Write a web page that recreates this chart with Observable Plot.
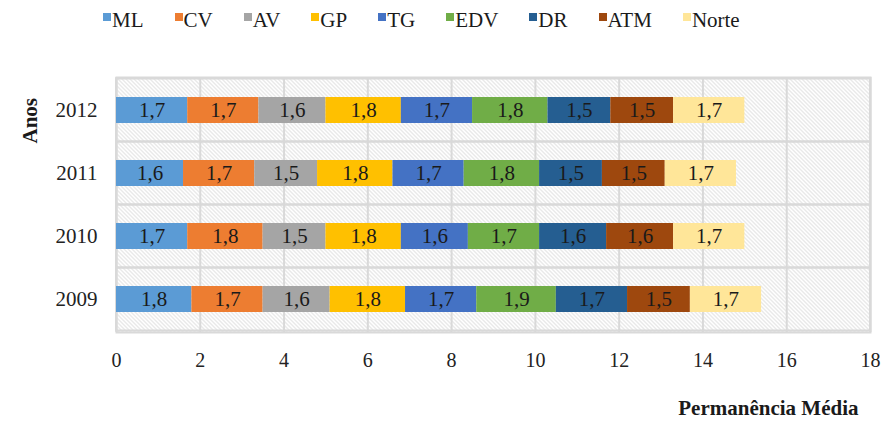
<!DOCTYPE html>
<html>
<head>
<meta charset="utf-8">
<script src="https://cdn.jsdelivr.net/npm/d3@7"></script>
<script src="https://cdn.jsdelivr.net/npm/@observablehq/plot@0.6"></script>
<style>
  body { margin: 0; background: #fff; font-family: "Times New Roman", Tinos, "Liberation Serif", "Noto Serif", "DejaVu Serif", serif; }
  #legend { height: 45px; display: flex; justify-content: flex-start; align-items: flex-start; padding-left: 103px; box-sizing: border-box; padding-top: 8px; }
  .item { display: flex; align-items: flex-start; font-size: 21px; color: #1a1a1a; margin-right: 31px; line-height: 24px; }
  .sw { width: 8px; height: 8px; margin-top: 5px; margin-right: 1px; }
  svg text { font-family: "Times New Roman", Tinos, "Liberation Serif", "Noto Serif", "DejaVu Serif", serif; }
</style>
</head>
<body>
<div id="legend"></div>
<div id="chart"></div>
<script>
const years = ["2012", "2011", "2010", "2009"];
const categories = ["ML", "CV", "AV", "GP", "TG", "EDV", "DR", "ATM", "Norte"];
const colors = ["#5B9BD5", "#ED7D31", "#A5A5A5", "#FFC000", "#4472C4", "#70AD47", "#255E91", "#9E480E", "#FFE699"];
const v2012 = [1.7, 1.7, 1.6, 1.8, 1.7, 1.8, 1.5, 1.5, 1.7];
const v2011 = [1.6, 1.7, 1.5, 1.8, 1.7, 1.8, 1.5, 1.5, 1.7];
const v2010 = [1.7, 1.8, 1.5, 1.8, 1.6, 1.7, 1.6, 1.6, 1.7];
const v2009 = [1.8, 1.7, 1.6, 1.8, 1.7, 1.9, 1.7, 1.5, 1.7];
const xTicks = [0, 2, 4, 6, 8, 10, 12, 14, 16, 18];

const valuesByYear = {"2012": v2012, "2011": v2011, "2010": v2010, "2009": v2009};
const data = [];
for (const y of years) {
  valuesByYear[y].forEach((v, i) => data.push({year: y, cat: categories[i], value: v}));
}

// Legend
const legend = document.getElementById("legend");
categories.forEach((c, i) => {
  const it = document.createElement("div");
  it.className = "item";
  it.innerHTML = `<span class="sw" style="background:${colors[i]}"></span><span>${c}</span>`;
  legend.appendChild(it);
});

const FF = "'Times New Roman', Tinos, 'Liberation Serif', 'Noto Serif', 'DejaVu Serif', serif";
const W = 884, H = 380, mT = 32, mB = 93, mL = 116, mR = 14;
const pIn = 0.58;
const step = (H - mT - mB) / years.length;
const gap = step * pIn / 2;
const fmt = v => v.toFixed(1).replace(".", ",");

const plot = Plot.plot({
  width: W, height: H,
  marginTop: mT, marginBottom: mB, marginLeft: mL, marginRight: mR,
  style: {fontFamily: FF, fontSize: "19px", color: "#222", background: "white"},
  x: {domain: [0, 18], ticks: xTicks, label: null, tickSize: 0, tickPadding: 20, tickFormat: d => d},
  y: {domain: years, paddingInner: pIn, paddingOuter: pIn / 2, label: null, tickSize: 0, tickPadding: 19},
  color: {domain: categories, range: colors},
  marks: [
    Plot.frame({fill: "url(#hatch)", stroke: "#d9d9d9", strokeWidth: 2}),
    Plot.gridX(xTicks, {stroke: "#d9d9d9", strokeOpacity: 1, strokeWidth: 2}),
    Plot.barX(years, {x1: 0, x2: 18, y: d => d, fill: "none", stroke: "#d9d9d9", strokeWidth: 2, insetTop: -gap, insetBottom: -gap}),
    Plot.barX(data, {y: "year", x: "value", fill: "cat", order: categories}),
    Plot.text(data, Plot.stackX({y: "year", x: "value", z: "cat", order: categories, text: d => fmt(d.value), fill: "#1a1a1a", fontSize: 21, fontFamily: FF})),
    Plot.axisX({ticks: xTicks, tickSize: 0, tickPadding: 20, fontSize: 20, label: null, fontFamily: FF}),
    Plot.axisY({tickSize: 0, tickPadding: 19, fontSize: 21, label: null, fontFamily: FF}),
    Plot.text(["Permanência Média"], {frameAnchor: "bottom-right", dy: 82, dx: -12, text: d => d, fontWeight: "bold", fontSize: 21, textAnchor: "end", fill: "#1a1a1a", fontFamily: FF}),
    Plot.text(["Anos"], {frameAnchor: "top-left", dx: -94, dy: 66, rotate: -90, text: d => d, fontWeight: "bold", fontSize: 21, fill: "#1a1a1a", fontFamily: FF})
  ]
});

const svg = d3.select(plot);
const defs = svg.insert("defs", ":first-child");
const pat = defs.append("pattern").attr("id", "hatch").attr("patternUnits", "userSpaceOnUse")
  .attr("width", 4).attr("height", 4);
pat.append("rect").attr("width", 4).attr("height", 4).attr("fill", "white");
pat.append("path").attr("d", "M-1,-1 L5,5 M-1,3 L1,5 M3,-1 L5,1").attr("stroke", "#c8c8c8").attr("stroke-width", 0.8);

document.getElementById("chart").appendChild(plot);
</script>
</body>
</html>
